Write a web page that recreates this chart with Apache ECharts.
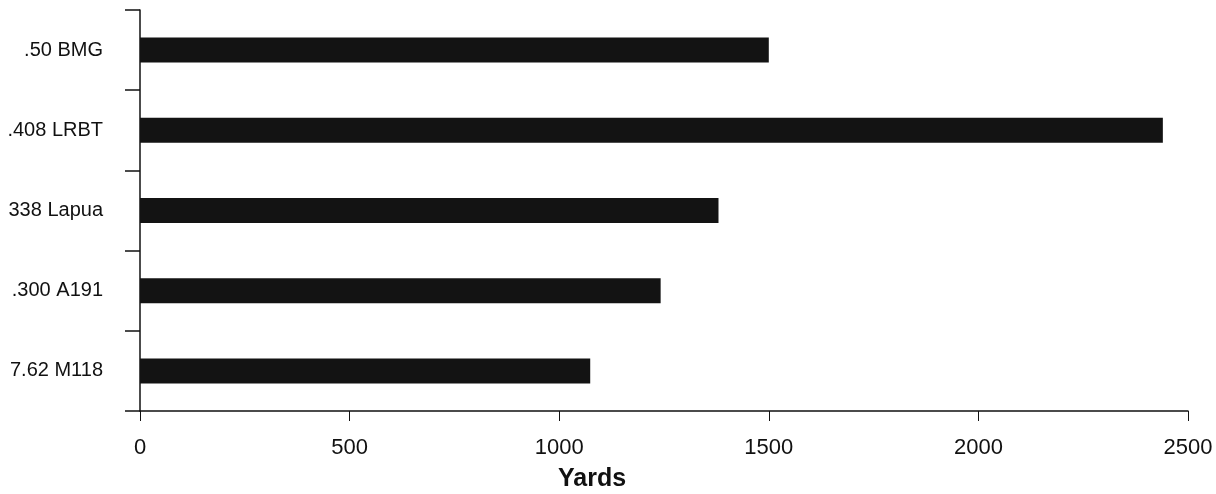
<!doctype html>
<html>
    <head>
        <meta charset="UTF-8">
        <title>Yards</title>
        <script src="https://cdn.jsdelivr.net/npm/echarts@6/dist/echarts.min.js"></script>
        <style>
            html, body { margin: 0; padding: 0; background: #fff; }
        </style>
    </head>
    <body>
        <div id="main" style="width: 1216px;height:494px;"></div>
        <script type="text/javascript">
            // data
            var cartridges = ['.50 BMG', '.408 LRBT', '338 Lapua', '.300 A191', '7.62 M118'];
            var yards = [1500, 2440, 1380, 1242, 1074];
            var xTicks = [0, 500, 1000, 1500, 2000, 2500];

            var myChart = echarts.init(document.getElementById('main'));

            var option = {
                animation: false,
                grid: {
                    top: 10,
                    left: 140,
                    right: 28,
                    bottom: 83,
                    outerBoundsMode: 'none'
                },
                xAxis: {
                    type: 'value',
                    min: xTicks[0],
                    max: xTicks[xTicks.length - 1],
                    interval: xTicks[1] - xTicks[0],
                    name: 'Yards',
                    nameLocation: 'middle',
                    nameGap: 56,
                    nameTextStyle: {
                        fontFamily: 'Liberation Sans',
                        fontSize: 25,
                        fontWeight: 'bold',
                        color: '#111',
                        padding: [0, 144, 0, 0]
                    },
                    axisLine: { show: true, lineStyle: { color: '#111', width: 1.5 } },
                    axisTick: { show: true, length: 10, lineStyle: { color: '#111' } },
                    splitLine: { show: false },
                    axisLabel: {
                        margin: 26,
                        fontFamily: 'Liberation Sans',
                        fontSize: 22,
                        color: '#111',
                        formatter: function (v) { return String(v); }
                    }
                },
                yAxis: {
                    type: 'category',
                    inverse: true,
                    data: cartridges,
                    axisLine: { show: true, lineStyle: { color: '#111', width: 1.5 } },
                    axisTick: { show: true, length: 15, lineStyle: { color: '#111', width: 1.5 } },
                    axisLabel: {
                        margin: 37,
                        fontFamily: 'Liberation Sans',
                        fontSize: 20,
                        color: '#111'
                    }
                },
                series: [{
                    name: 'Yards',
                    type: 'bar',
                    data: yards,
                    barWidth: 25,
                    itemStyle: { color: '#131313' }
                }]
            };

            myChart.setOption(option);
        </script>
    </body>
</html>
